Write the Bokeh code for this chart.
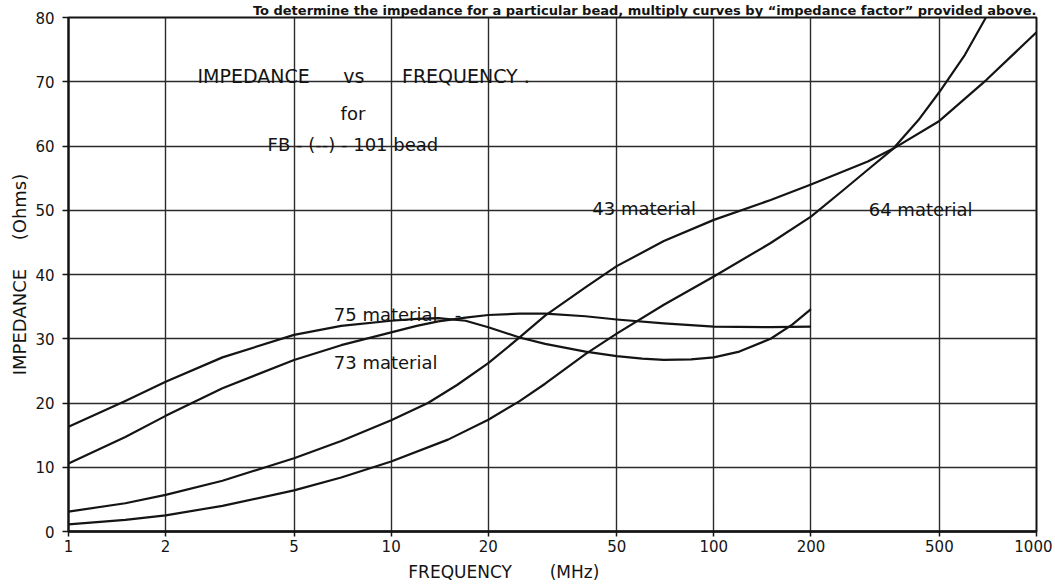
import math
from bokeh.plotting import figure
from bokeh.models import FixedTicker, Range1d, PrintfTickFormatter, ColumnDataSource
from bokeh.core.properties import value
from bokeh.embed import file_html
from bokeh.resources import INLINE

# ---------------- data ----------------
x_ticks = [1, 2, 5, 10, 20, 50, 100, 200, 500, 1000]
x_tick_labels = ["1", "2", "5", "10", "20", "50", "100", "200", "500", "1000"]
y_ticks = [0, 10, 20, 30, 40, 50, 60, 70, 80]

freq_43 = [1, 1.5, 2, 3, 5, 7, 10, 13, 16, 20, 25, 30, 40, 50, 70, 100, 150, 200, 300, 360, 500, 700, 1000]
imp_43 = [3.1, 4.4, 5.7, 7.9, 11.4, 14.1, 17.3, 20.0, 22.8, 26.2, 30.2, 33.6, 38.0, 41.3, 45.2, 48.5, 51.6, 54.0, 57.6, 59.6, 63.9, 70.3, 77.7]

freq_64 = [1, 1.5, 2, 3, 5, 7, 10, 15, 20, 25, 30, 40, 50, 70, 100, 150, 200, 250, 300, 360, 430, 500, 600, 690, 740]
imp_64 = [1.1, 1.8, 2.5, 4.0, 6.4, 8.4, 10.9, 14.3, 17.4, 20.3, 23.0, 27.6, 30.8, 35.3, 39.7, 44.9, 49.0, 53.0, 56.3, 59.6, 64.0, 68.4, 74.2, 79.6, 82.5]

freq_75 = [1, 1.5, 2, 3, 5, 7, 10, 12, 14, 17, 20, 25, 30, 40, 50, 60, 70, 85, 100, 120, 150, 175, 200]
imp_75 = [16.3, 20.3, 23.3, 27.1, 30.6, 32.0, 32.8, 33.1, 33.2, 32.8, 31.8, 30.2, 29.2, 28.0, 27.3, 26.9, 26.7, 26.8, 27.1, 28.0, 30.0, 32.2, 34.6]

freq_73 = [1, 1.5, 2, 3, 5, 7, 10, 12, 14, 17, 20, 25, 30, 40, 50, 70, 100, 150, 200]
imp_73 = [10.6, 14.7, 18.0, 22.3, 26.7, 29.0, 31.0, 32.0, 32.7, 33.3, 33.7, 33.9, 33.9, 33.5, 33.0, 32.4, 31.9, 31.8, 31.9]

NB = "\u00a0"  # non-collapsing space

head_text = ["IMPEDANCE", "vs", "FREQUENCY" + NB + "."]
head_x = [2.51, 7.1, 10.8]
head_y = [70.9, 70.9, 70.9]

note_text = ["for", "FB" + NB + "-" + NB + "(--)" + NB + "-" + NB + "101" + NB + "bead",
             "43 material", "64 material", "75 material" + NB * 3 + "-", "73 material"]
note_x = [6.97, 4.14, 42.0, 302.0, 6.64, 6.64]
note_y = [65.1, 60.2, 50.3, 50.1, 33.8, 26.3]

caption = "To determine the impedance for a particular bead, multiply curves by \u201cimpedance factor\u201d provided above."
# x title sits left of the axis centre in the original: trailing spaces shift it
x_title = "FREQUENCY" + NB * 7 + "(MHz)" + NB * 18
y_title = "IMPEDANCE" + NB * 5 + "(Ohms)"

FONT = "DejaVu Sans"
INK = "#141414"

p = figure(frame_width=968, frame_height=514, x_axis_type="log",
           x_range=Range1d(1, 1000), y_range=Range1d(0, 80),
           output_backend="svg", toolbar_location=None,
           min_border_left=68, min_border_right=16,
           min_border_top=16, min_border_bottom=56)

p.background_fill_color = "white"
p.border_fill_color = "white"
p.outline_line_color = INK
p.outline_line_width = 2

# caption (cut off at the top edge in the original scan)
p.title.text = caption
p.title.align = "right"
p.title.text_font = FONT
p.title.text_font_size = "13px"
p.title.text_font_style = "bold"
p.title.text_color = INK
p.title.standoff = 0

# axes
p.xaxis.ticker = FixedTicker(ticks=x_ticks)
p.xaxis.formatter = PrintfTickFormatter(format="%d")
p.xaxis.major_label_overrides = {t: l for t, l in zip(x_ticks, x_tick_labels)}
p.yaxis.ticker = FixedTicker(ticks=y_ticks)
for ax in (p.xaxis[0], p.yaxis[0]):
    ax.minor_tick_line_color = None
    ax.major_tick_in = 0
    ax.major_tick_line_color = INK
    ax.major_tick_line_width = 1.5
    ax.axis_line_color = INK
    ax.major_label_text_font = FONT
    ax.major_label_text_font_size = "15px"
    ax.major_label_text_color = INK
    ax.axis_label_text_font = FONT
    ax.axis_label_text_font_style = "normal"
    ax.axis_label_text_color = INK
p.xaxis.major_tick_out = 5
p.xaxis.major_label_standoff = 3
p.xaxis.axis_line_width = 2.5
p.xaxis.axis_label = x_title
p.xaxis.axis_label_text_font_size = "17px"
p.xaxis.axis_label_standoff = 7
p.yaxis.major_tick_out = 6
p.yaxis.major_label_standoff = 8
p.yaxis.axis_line_width = 2
p.yaxis.axis_label = y_title
p.yaxis.axis_label_text_font_size = "18px"
p.yaxis.axis_label_standoff = 2

p.xgrid.ticker = FixedTicker(ticks=x_ticks)
p.ygrid.ticker = FixedTicker(ticks=y_ticks)
for g in (p.xgrid[0], p.ygrid[0]):
    g.grid_line_color = "#2b2b2b"
    g.grid_line_width = 1.4
    g.grid_line_alpha = 1.0

# curves
for fx, fy in ((freq_43, imp_43), (freq_64, imp_64), (freq_75, imp_75), (freq_73, imp_73)):
    p.line(fx, fy, line_color=INK, line_width=2.2, line_join="round")

# annotations inside the chart
hsrc = ColumnDataSource(dict(x=head_x, y=head_y, t=head_text))
p.text(x="x", y="y", text="t", source=hsrc, text_font=value(FONT),
       text_font_size="19px", text_color=INK, text_align="left",
       text_baseline="alphabetic")
src = ColumnDataSource(dict(x=note_x, y=note_y, t=note_text))
p.text(x="x", y="y", text="t", source=src, text_font=value(FONT),
       text_font_size="18px", text_color=INK, text_align="left",
       text_baseline="alphabetic")

open("out.html", "w").write(file_html(p, INLINE))
